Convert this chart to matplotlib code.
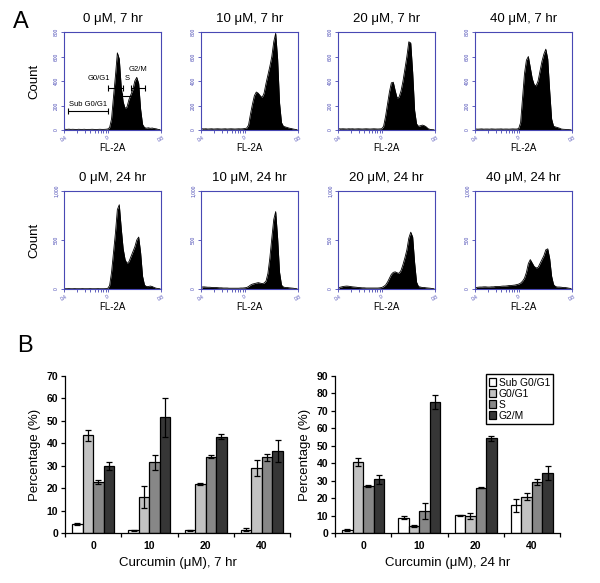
import numpy as np
import matplotlib
matplotlib.use('Agg')
import matplotlib.pyplot as plt

plt.rcParams['font.family'] = ['Liberation Sans', 'DejaVu Sans']

# ---- Panel A: PI histograms, counts per FL-2A bin (50 bins across the axis) ----
hist_titles = ['0 \u03bcM, 7 hr', '10 \u03bcM, 7 hr', '20 \u03bcM, 7 hr', '40 \u03bcM, 7 hr',
               '0 \u03bcM, 24 hr', '10 \u03bcM, 24 hr', '20 \u03bcM, 24 hr', '40 \u03bcM, 24 hr']

h_0uM_7h = [6, 5, 7, 5, 6, 5, 4, 6, 5, 5, 6, 4, 5, 5, 6, 5, 4, 5, 6, 5, 5, 6, 8,
            20, 90, 270, 440, 630, 580, 350, 230, 175, 190, 250, 290, 330, 400, 430, 380, 170, 45, 20,
            15, 18, 14, 16, 12, 10, 5, 3]
h_10uM_7h = [10, 9, 10, 8, 9, 10, 8, 9, 10, 9, 8, 9, 10, 8, 9, 10, 9, 8, 9, 10, 9, 10, 12,
             15, 40, 130, 210, 280, 310, 300, 280, 265, 300, 380, 450, 520, 600, 720, 790, 580, 220, 60,
             30, 25, 20, 15, 12, 8, 5, 3]
h_20uM_7h = [10, 9, 10, 9, 8, 10, 9, 10, 8, 9, 10, 9, 8, 9, 10, 9, 8, 9, 10, 9, 8, 9, 10,
             30, 110, 210, 310, 385, 390, 320, 260, 270, 320, 400, 500, 600, 720, 710, 470, 160, 50, 30,
             35, 40, 35, 25, 10, 5, 3, 2]
h_40uM_7h = [8, 7, 8, 9, 7, 8, 8, 7, 9, 8, 7, 8, 8, 9, 7, 8, 8, 7, 8, 9, 8, 8, 12,
             60, 260, 460, 570, 600, 510, 420, 370, 360, 400, 480, 560, 620, 660, 580, 320, 90, 30, 25,
             20, 15, 8, 6, 5, 4, 3, 2]
h_0uM_24h = [3, 3, 4, 3, 3, 4, 3, 3, 3, 4, 3, 3, 3, 4, 3, 3, 3, 4, 3, 3, 3, 4, 6,
             35, 170, 370, 570, 810, 860, 620, 410, 300, 260, 280, 330, 380, 430, 500, 530, 370, 130, 40,
             25, 25, 30, 25, 15, 8, 5, 3]
h_10uM_24h = [20, 22, 20, 18, 18, 16, 15, 15, 14, 12, 12, 10, 10, 10, 8, 8, 8, 8, 8, 8, 10, 10, 12,
              15, 25, 40, 50, 55, 60, 65, 60, 55, 60, 80, 160, 320, 520, 710, 790, 520, 170, 40,
              20, 15, 15, 12, 10, 8, 5, 3]
h_20uM_24h = [15, 20, 25, 28, 30, 28, 25, 22, 20, 18, 15, 14, 12, 12, 10, 10, 10, 10, 10, 10, 10, 12, 15,
              25, 40, 70, 110, 150, 170, 175, 165, 160, 190, 250, 320, 400, 520, 580, 530, 270, 70, 25,
              20, 15, 15, 12, 10, 8, 5, 3]
h_40uM_24h = [15, 18, 20, 20, 22, 22, 20, 20, 22, 22, 25, 25, 25, 28, 30, 30, 32, 35, 35, 38, 40, 45, 50,
              60, 80, 110, 170, 260, 300, 265, 230, 215, 220, 260, 300, 340, 400, 410, 310, 130, 45, 25,
              20, 20, 18, 15, 15, 12, 8, 5]

hist_counts = [h_0uM_7h, h_10uM_7h, h_20uM_7h, h_40uM_7h,
               h_0uM_24h, h_10uM_24h, h_20uM_24h, h_40uM_24h]

yticks_7h = [0, 200, 400, 600, 800]
ylabels_7h = ['0', '200', '400', '600', '800']
yticks_24h = [0, 500, 1000]
ylabels_24h = ['0', '500', '1,000']
xtick_labels = ['0.4', '0', '0.8']

# gate markers drawn on the first histogram
gate_labels = ['Sub G0/G1', 'G0/G1', 'S', 'G2/M']
gate_x0 = [0.04, 0.45, 0.60, 0.69]
gate_x1 = [0.45, 0.61, 0.71, 0.84]
gate_y = [155, 343, 280, 343]
gate_text_x = [0.245, 0.36, 0.655, 0.76]
gate_text_y = [205, 420, 420, 490]

# ---- Panel B: cell cycle distribution (%) ----
doses = ['0', '10', '20', '40']
phases = ['Sub G0/G1', 'G0/G1', 'S', 'G2/M']
phase_colors = ['white', '#c2c2c2', '#878787', '#363636']

sub_7h = [4.0, 1.2, 1.3, 1.5]
g1_7h = [43.5, 16.0, 22.0, 29.0]
s_7h = [22.7, 31.5, 34.0, 33.7]
g2m_7h = [30.0, 51.5, 43.0, 36.5]
sub_7h_err = [0.5, 0.3, 0.2, 0.8]
g1_7h_err = [2.3, 5.0, 0.5, 3.5]
s_7h_err = [0.8, 3.2, 0.7, 1.5]
g2m_7h_err = [1.8, 8.5, 1.3, 5.0]

sub_24h = [1.8, 8.7, 10.1, 15.8]
g1_24h = [40.5, 4.0, 9.8, 20.8]
s_24h = [27.0, 12.8, 26.0, 29.3]
g2m_24h = [30.8, 75.0, 54.3, 34.5]
sub_24h_err = [0.7, 0.8, 0.3, 3.5]
g1_24h_err = [2.3, 0.5, 1.5, 2.0]
s_24h_err = [0.7, 4.5, 0.3, 1.8]
g2m_24h_err = [2.5, 4.0, 1.3, 4.0]

FLOW_BLUE = '#4848b4'

fig = plt.figure(figsize=(6, 5.83), dpi=100)
W, H = 600.0, 583.0


def px_axes(left, top, width, height):
    # axes placed by pixel box (top-left origin)
    return fig.add_axes([left / W, 1 - (top + height) / H, width / W, height / H])


# minor ticks of the log decade on the FL-2A axis
decade_end = 0.45
minor_pos = [decade_end * np.log10(k) for k in range(2, 10)]
bin_x = 0.01 + 0.02 * np.arange(50)

col_left = [64, 201, 338, 475]
row_top = [32, 191]
for i, counts in enumerate(hist_counts):
    row, col = divmod(i, 4)
    ax = px_axes(col_left[col], row_top[row], 97, 98)
    ax.fill_between(bin_x, counts, color='black', lw=0)
    ax.plot(bin_x, counts, color='black', lw=0.6)
    ax.set_xlim(0, 1)
    if row == 0:
        ax.set_ylim(0, 800)
        ax.set_yticks(yticks_7h, ylabels_7h)
    else:
        ax.set_ylim(0, 1000)
        ax.set_yticks(yticks_24h, ylabels_24h)
    ax.set_xticks([0, decade_end, 1], xtick_labels)
    ax.set_xticks(minor_pos, minor=True)
    for sp in ax.spines.values():
        sp.set_color(FLOW_BLUE)
        sp.set_linewidth(0.8)
    ax.tick_params(colors=FLOW_BLUE, labelsize=3.5, length=2.5, width=0.6, pad=1)
    ax.tick_params(axis='x', which='minor', colors=FLOW_BLUE, length=2, width=0.6)
    for t in ax.get_yticklabels():
        t.set_rotation(90)
        t.set_va('center')
    for t in ax.get_xticklabels():
        t.set_rotation(30)
    ax.set_title(hist_titles[i], fontsize=9.5, pad=7)
    ax.set_xlabel('FL-2A', fontsize=7, labelpad=0)
    if col == 0:
        fig.text(34 / W, 1 - (row_top[row] + 49) / H, 'Count', rotation=90,
                 fontsize=9.5, ha='center', va='center')
    if i == 0:
        for lab, x0, x1, gy, tx, ty in zip(gate_labels, gate_x0, gate_x1, gate_y,
                                           gate_text_x, gate_text_y):
            ax.errorbar((x0 + x1) / 2, gy, xerr=(x1 - x0) / 2, fmt='none', ecolor='black',
                        elinewidth=0.8, capsize=2, capthick=0.8)
            ax.text(tx, ty, lab, fontsize=5.5, ha='center', va='center')

fig.text(21 / W, 1 - 22 / H, 'A', fontsize=17, ha='center', va='center')
fig.text(25 / W, 1 - 346 / H, 'B', fontsize=17, ha='center', va='center')


def bar_panel(ax, series, errors, ymax, xlabel, legend=False):
    width = 0.1875
    centers = np.arange(len(doses)) + 0.5
    for k, (vals, errs) in enumerate(zip(series, errors)):
        ax.bar(centers + (k - 1.5) * width, vals, width, yerr=errs, color=phase_colors[k],
               edgecolor='black', linewidth=0.9, label=phases[k],
               error_kw=dict(ecolor='black', elinewidth=0.9, capsize=2.2, capthick=0.9))
    ax.set_xlim(0, len(doses))
    ax.set_ylim(0, ymax)
    ax.set_yticks(np.arange(0, ymax + 1, 10))
    ax.set_xticks(np.arange(len(doses) + 1), [])
    ax.set_xticks(centers, doses, minor=True)
    ax.tick_params(axis='x', which='major', length=3, width=0.9)
    ax.tick_params(axis='x', which='minor', length=0, pad=6)
    ax.tick_params(axis='y', length=3, width=0.9, pad=2)
    for t in ax.get_yticklabels() + ax.get_xticklabels(minor=True):
        t.set_fontweight('bold')
        t.set_fontsize(7.5)
    ax.spines['top'].set_visible(False)
    ax.spines['right'].set_visible(False)
    ax.spines['left'].set_linewidth(0.9)
    ax.spines['bottom'].set_linewidth(0.9)
    ax.set_ylabel('Percentage (%)', fontsize=9.5, labelpad=4)
    ax.set_xlabel(xlabel, fontsize=9.5, labelpad=4)
    if legend:
        ax.legend(loc='upper right', bbox_to_anchor=(0.97, 1.01), fontsize=7.4, frameon=True,
                  fancybox=False, edgecolor='black', framealpha=1, handlelength=0.7,
                  handleheight=0.7, handletextpad=0.3, labelspacing=0.1, borderpad=0.3,
                  borderaxespad=0)


ax_l = px_axes(65, 376, 225, 157)
bar_panel(ax_l, [sub_7h, g1_7h, s_7h, g2m_7h],
          [sub_7h_err, g1_7h_err, s_7h_err, g2m_7h_err], 70, 'Curcumin (\u03bcM), 7 hr')

ax_r = px_axes(335, 376, 225, 157)
bar_panel(ax_r, [sub_24h, g1_24h, s_24h, g2m_24h],
          [sub_24h_err, g1_24h_err, s_24h_err, g2m_24h_err], 90, 'Curcumin (\u03bcM), 24 hr',
          legend=True)

fig.savefig('out.png', dpi=100)
